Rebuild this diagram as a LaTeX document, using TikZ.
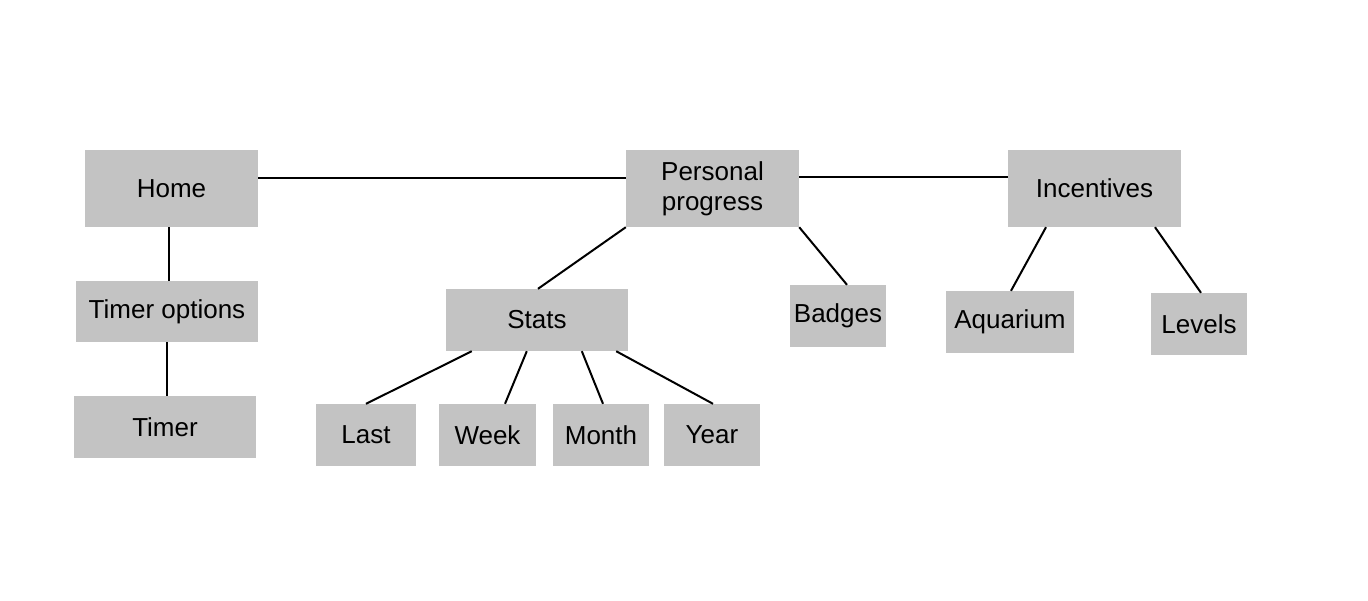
\documentclass[tikz,border=0pt]{standalone}
\usepackage{fontspec}
\setmainfont{Liberation Sans}
\begin{document}
\begin{tikzpicture}[x=1pt,y=-1pt,
  box/.style={fill=boxgray, draw=none, inner sep=0pt, align=center,
    font=\fontsize{26}{30}\selectfont},
  link/.style={line width=2pt, black}]
\definecolor{boxgray}{HTML}{C3C3C3}
\useasboundingbox[fill=white] (0,0) rectangle (1368,600);
% top row
\node[box, minimum width=173pt, minimum height=77pt] (home) at (171.5,188.5) {Home};
\node[box, minimum width=173pt, minimum height=77pt] (pp) at (712.5,188.5) {Personal\\progress};
\node[box, minimum width=173pt, minimum height=77pt] (inc) at (1094.5,188.5) {Incentives};
% left column
\node[box, minimum width=182pt, minimum height=61pt] (to) at (167,311.5) {Timer options};
\node[box, minimum width=182pt, minimum height=62pt] (timer) at (165,427) {Timer};
% stats
\node[box, minimum width=182pt, minimum height=62pt] (stats) at (537,320) {Stats};
\node[box, minimum width=96pt, minimum height=62pt] (badges) at (838,316) {Badges};
\node[box, minimum width=128pt, minimum height=62pt] (aq) at (1010,322) {Aquarium};
\node[box, minimum width=96pt, minimum height=62pt] (lev) at (1199,324) {Levels};
% bottom row
\node[box, minimum width=100pt, minimum height=62pt] (last) at (366,435) {Last};
\node[box, minimum width=97pt, minimum height=62pt] (week) at (487.5,435) {Week};
\node[box, minimum width=96pt, minimum height=62pt] (month) at (601,435) {Month};
\node[box, minimum width=96pt, minimum height=62pt] (year) at (712,435) {Year};
% connectors
\draw[link] ([yshift=10.5pt]home.east) -- ([yshift=10.5pt]pp.west);
\draw[link] ([yshift=11.5pt]pp.east) -- ([yshift=11.5pt]inc.west);
\coordinate (hs) at ([xshift=-2.5pt]home.south);
\draw[link] (hs) -- (hs |- to.north);
\draw[link] (to.south) -- (to.south |- timer.north);
\draw[link] (pp.south west) -- ([xshift=1pt]stats.north);
\draw[link] (pp.south east) -- ([xshift=9pt]badges.north);
\draw[link] ([xshift=-48.5pt]inc.south) -- ([xshift=1pt]aq.north);
\draw[link] ([xshift=60.5pt]inc.south) -- ([xshift=2pt]lev.north);
\draw[link] ([xshift=26pt]stats.south west) -- (last.north);
\draw[link] ([xshift=81pt]stats.south west) -- ([xshift=17.5pt]week.north);
\draw[link] ([xshift=136pt]stats.south west) -- ([xshift=2pt]month.north);
\draw[link] ([xshift=-12pt]stats.south east) -- ([xshift=1pt]year.north);
\end{tikzpicture}
\end{document}
